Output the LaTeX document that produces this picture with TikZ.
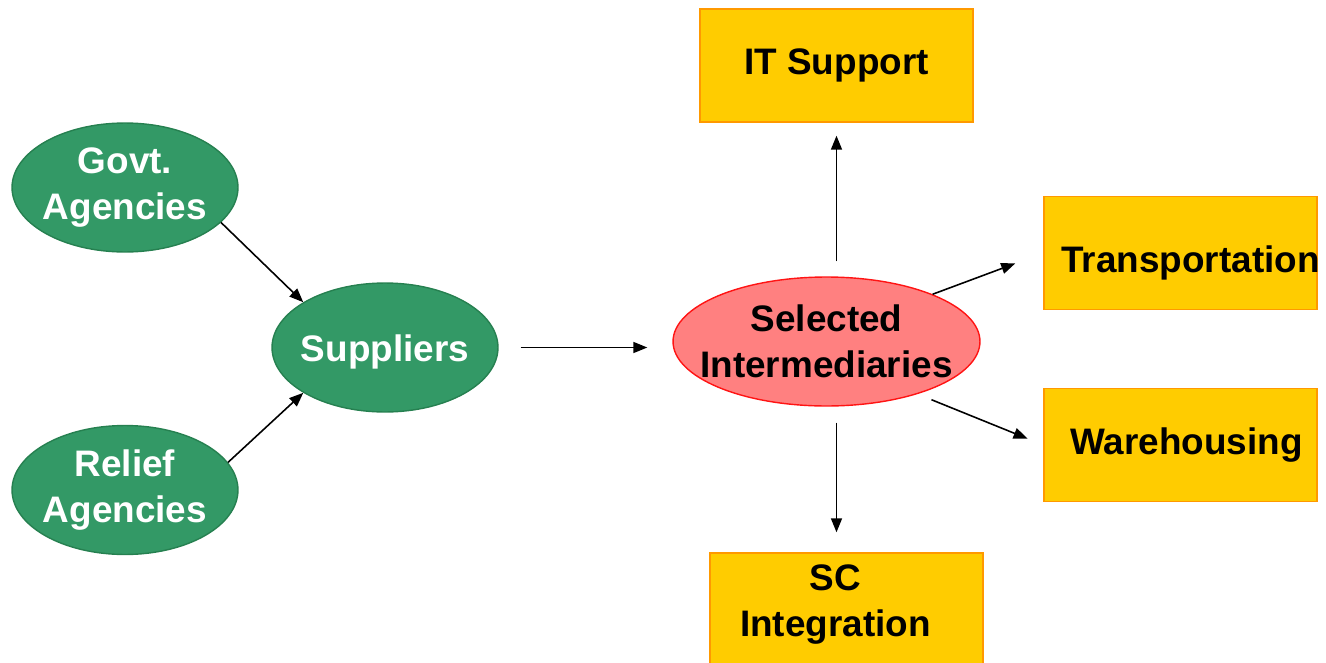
\documentclass[tikz,border=0pt]{standalone}
\usepackage{fontspec}
\setmainfont{Liberation Sans}
\usetikzlibrary{shapes.geometric, arrows.meta}
\definecolor{agencygreen}{RGB}{51,153,102}
\definecolor{agencyedge}{RGB}{38,128,80}
\definecolor{hubred}{RGB}{255,128,128}
\definecolor{hubedge}{RGB}{255,20,20}
\definecolor{servicegold}{RGB}{255,204,0}
\definecolor{serviceedge}{RGB}{255,153,0}

\begin{document}
\begin{tikzpicture}[x=0.02cm, y=-0.02cm,
    font=\fontsize{21pt}{26pt}\selectfont\bfseries,
    agency/.style={ellipse, draw=agencyedge, fill=agencygreen, line width=0.8pt,
        minimum width=4.52cm, minimum height=2.58cm, inner sep=0pt},
    agencytext/.style={text=white, align=center},
    hub/.style={ellipse, draw=hubedge, fill=hubred, line width=0.8pt,
        minimum width=6.14cm, minimum height=2.58cm, inner sep=0pt},
    service/.style={rectangle, draw=serviceedge, fill=servicegold, line width=0.8pt,
        minimum width=5.46cm, minimum height=2.26cm, inner sep=0pt, align=center},
    flow/.style={-{Triangle[length=0.28cm, width=0.22cm]}, line width=0.9pt}]
    \useasboundingbox (0,0) rectangle (1326,663);

    % Draw the agencies and the suppliers
    \node[agency, label={[agencytext]center:{Govt.\\Agencies}}] (govt) at (125,187.5) {};
    \node[agency, label={[agencytext]center:{Relief\\Agencies}}] (relief) at (125,490) {};
    \node[agency, label={[agencytext, yshift=-0.08cm]center:Suppliers}] (sup) at (385,347.5) {};

    % Draw the selected intermediaries
    \node[hub, label={[align=center]center:{Selected\\Intermediaries}}] (si) at (826.5,341.5) {};

    % Draw the services
    \node[service] (it) at (836.5,65.5) {IT Support};
    \node[service, label={[xshift=0.2cm, yshift=-0.2cm]center:Transportation}] (tr) at (1180.5,253) {};
    \node[service, label={[xshift=0.12cm]center:Warehousing}] (wh) at (1180.5,445) {};
    \node[service, label={[align=center, xshift=-0.22cm, yshift=0.1cm]center:{SC\\Integration}}] (sc) at (846.5,609.5) {};

    % Connect the nodes
    \draw[flow] (govt.-20) -- (sup.151);
    \draw[flow] (relief.15) -- (sup.209);
    \draw[flow, shorten <=0.44cm, shorten >=0.5cm] (sup.east) -- (sup.east -| si.west);
    \draw[flow, shorten <=0.3cm, shorten >=0.26cm] (it.south |- si.north) -- (it.south);
    \draw[flow, shorten <=0.32cm, shorten >=0.4cm] (it.south |- si.south) -- (it.south |- sc.north);
    \draw[flow, shorten >=0.6cm] (si.24) -- (tr.west);
    \draw[flow, shorten <=0.3cm, shorten >=0.34cm] (si.-30) -- (wh.west);
\end{tikzpicture}
\end{document}
